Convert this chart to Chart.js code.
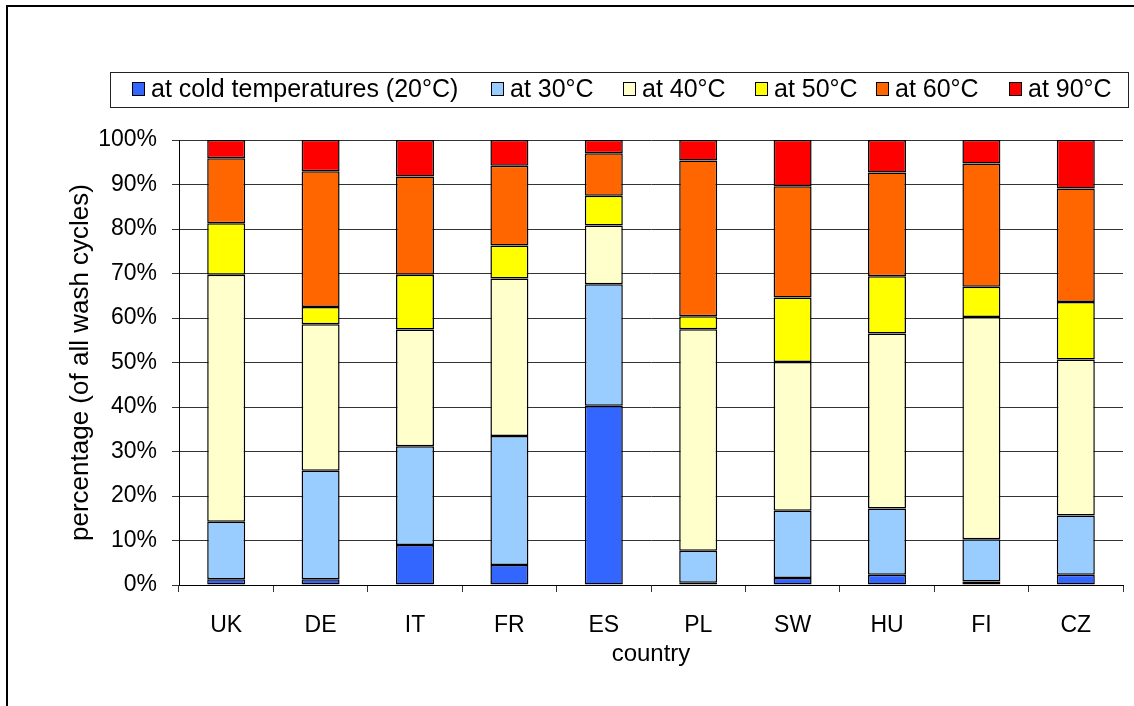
<!DOCTYPE html>
<html>
<head>
<meta charset="utf-8">
<script src="https://cdn.jsdelivr.net/npm/chart.js@4/dist/chart.umd.min.js"></script>
<style>
html,body{margin:0;padding:0;background:#fff;}
#wrap{width:1134px;height:706px;position:relative;}
</style>
</head>
<body>
<div id="wrap"><canvas id="c" width="1134" height="706"></canvas></div>
<script>
const categories = ['UK','DE','IT','FR','ES','PL','SW','HU','FI','CZ'];
const seriesNames = ['at cold temperatures (20°C)','at 30°C','at 40°C','at 50°C','at 60°C','at 90°C'];
const cold = [1.3,1.3,9.0,4.5,40.3,0.5,1.6,2.3,0.8,2.3];
const t30  = [12.9,24.4,22.2,29.0,27.3,7.2,15.1,14.9,9.5,13.3];
const t40  = [55.5,32.9,26.2,35.4,13.2,49.8,33.4,39.3,49.9,35.1];
const t50  = [11.6,3.9,12.3,7.4,6.7,2.9,14.5,12.9,6.8,12.9];
const t60  = [14.6,30.5,22.1,17.9,9.5,35.0,25.0,23.3,27.7,25.5];
const t90  = [4.1,7.0,8.2,5.8,3.0,4.6,10.4,7.3,5.3,10.9];
const yTicks = [0,10,20,30,40,50,60,70,80,90,100];
const colors = ['#3366FF','#99CCFF','#FFFFCC','#FFFF00','#FF6600','#FF0000'];

Chart.defaults.font.family = '"Liberation Sans", Arial, sans-serif';
Chart.defaults.color = '#000';

const values = [cold,t30,t40,t50,t60,t90];
const datasets = values.map((v,i)=>({
  label: seriesNames[i],
  data: v,
  backgroundColor: colors[i],
  borderColor: '#000',
  borderWidth: 1.5,
  borderSkipped: false,
  barPercentage: 0.4025,
  categoryPercentage: 1.0
}));

const legendBox = {
  id:'legendBox',
  afterDraw(chart){
    const ctx = chart.ctx;
    ctx.save();
    ctx.strokeStyle = '#000';
    ctx.lineWidth = 2;
    ctx.beginPath();
    ctx.moveTo(7,706); ctx.lineTo(7,6); ctx.lineTo(1134,6);
    ctx.stroke();
    ctx.lineWidth = 1;
    ctx.strokeStyle = '#222';
    ctx.strokeRect(110.5,72.5,1018,35);
    const sx = [132,491,623,755,876,1009];
    ctx.font = '25px "Liberation Sans", Arial, sans-serif';
    ctx.textBaseline = 'middle';
    chart.data.datasets.forEach((ds,i)=>{
      ctx.fillStyle = ds.backgroundColor;
      ctx.fillRect(sx[i]+0.5,82.5,12,13);
      ctx.strokeStyle = '#000';
      ctx.strokeRect(sx[i]+0.5,82.5,12,13);
      ctx.fillStyle = '#000';
      ctx.fillText(ds.label, sx[i]+19, 90);
    });
    ctx.restore();
  }
};

new Chart(document.getElementById('c'),{
  type:'bar',
  data:{labels:categories,datasets},
  options:{
    responsive:false,
    animation:false,
    layout:{padding:{top:140,right:11,bottom:0,left:0}},
    plugins:{legend:{display:false},tooltip:{enabled:false}},
    scales:{
      x:{
        stacked:true,
        offset:true,
        grid:{display:true,drawOnChartArea:false,drawTicks:true,tickLength:7,color:'#333',offset:true},
        border:{display:true,color:'#000',width:1},
        ticks:{font:{size:23},padding:20,color:'#000'},
        title:{display:true,text:'country',font:{size:24},color:'#000',padding:{top:0,bottom:37}},
        afterFit(s){ s.height = 121; }
      },
      y:{
        stacked:true,
        min:0,max:100,
        afterBuildTicks(s){ s.ticks = yTicks.map(v=>({value:v})); },
        grid:{color:'#333',tickLength:7,drawTicks:true},
        border:{display:true,color:'#000',width:1},
        ticks:{font:{size:23},padding:15,color:'#000',callback:v=>v+'%'},
        title:{display:true,text:'percentage (of all wash cycles)',font:{size:26},color:'#000',padding:{top:65,bottom:0}},
        afterFit(s){ s.width = 179; }
      }
    }
  },
  plugins:[legendBox]
});
</script>
</body>
</html>
